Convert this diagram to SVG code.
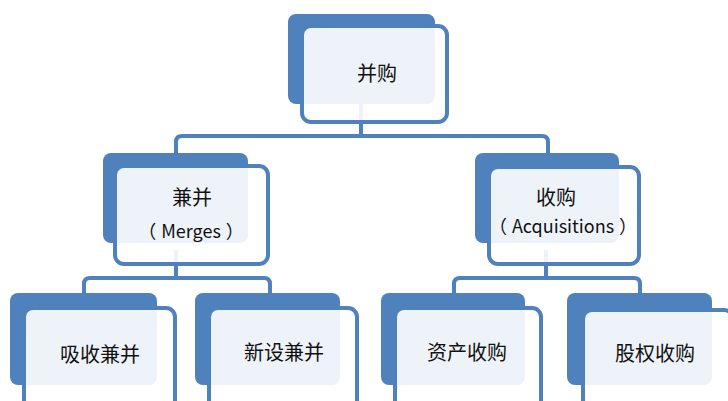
<svg xmlns="http://www.w3.org/2000/svg" width="728" height="401" viewBox="0 0 728 401">
<style>
.back{fill:#4F81BD;}
.front{fill:#ffffff;fill-opacity:0.9;stroke:#4F81BD;stroke-width:4;}
.conn{fill:none;stroke:#4F81BD;stroke-width:4;stroke-linejoin:round;}
.t{font-family:"Noto Sans CJK SC","Noto Sans",sans-serif;font-size:20px;fill:#111111;text-anchor:middle;}
.s{font-size:18px;}
</style>
<rect width="728" height="401" fill="#ffffff"/>
<g id="connectors">
<path class="conn" d="M361 100 V136"/>
<path class="conn" d="M176 155 V142 Q176 136 182 136 H542 Q548 136 548 142 V155"/>
<path class="conn" d="M176 250 V278"/>
<path class="conn" d="M84 295 V284 Q84 278 90 278 H264 Q270 278 270 284 V295"/>
<path class="conn" d="M546 250 V278"/>
<path class="conn" d="M454 295 V284 Q454 278 460 278 H634 Q640 278 640 284 V295"/>
</g>
<g id="n0">
<rect class="back" x="288" y="14" width="147" height="90" rx="8"/>
<rect class="front" x="302" y="26" width="145" height="96" rx="9"/>
<text class="t" x="377" y="81">并购</text>
</g>
<g id="n1">
<rect class="back" x="103" y="153" width="145" height="90" rx="8"/>
<rect class="front" x="115" y="166" width="153" height="98" rx="9"/>
<text class="t" x="192" y="205">兼并</text>
<text class="t s" x="191" y="238"><tspan>（</tspan><tspan dx="5">Merges</tspan><tspan dx="5">）</tspan></text>
</g>
<g id="n2">
<rect class="back" x="475" y="153" width="144" height="90" rx="8"/>
<rect class="front" x="489" y="167" width="150" height="97" rx="9"/>
<text class="t" x="556" y="205">收购</text>
<text class="t s" x="563" y="233"><tspan>（</tspan><tspan dx="5">Acquisitions</tspan><tspan dx="5">）</tspan></text>
</g>
<g id="n3">
<rect class="back" x="10" y="293" width="147" height="92" rx="8"/>
<rect class="front" x="24" y="308" width="151" height="110" rx="9"/>
<text class="t" x="100" y="362">吸收兼并</text>
</g>
<g id="n4">
<rect class="back" x="195" y="293" width="145" height="92" rx="8"/>
<rect class="front" x="209" y="308" width="148" height="110" rx="9"/>
<text class="t" x="284" y="360">新设兼并</text>
</g>
<g id="n5">
<rect class="back" x="381" y="293" width="144" height="92" rx="8"/>
<rect class="front" x="395" y="308" width="146" height="110" rx="9"/>
<text class="t" x="467" y="360">资产收购</text>
</g>
<g id="n6">
<rect class="back" x="567" y="293" width="145" height="92" rx="8"/>
<rect class="front" x="583" y="310" width="150" height="110" rx="9"/>
<text class="t" x="655" y="361">股权收购</text>
</g>
</svg>
